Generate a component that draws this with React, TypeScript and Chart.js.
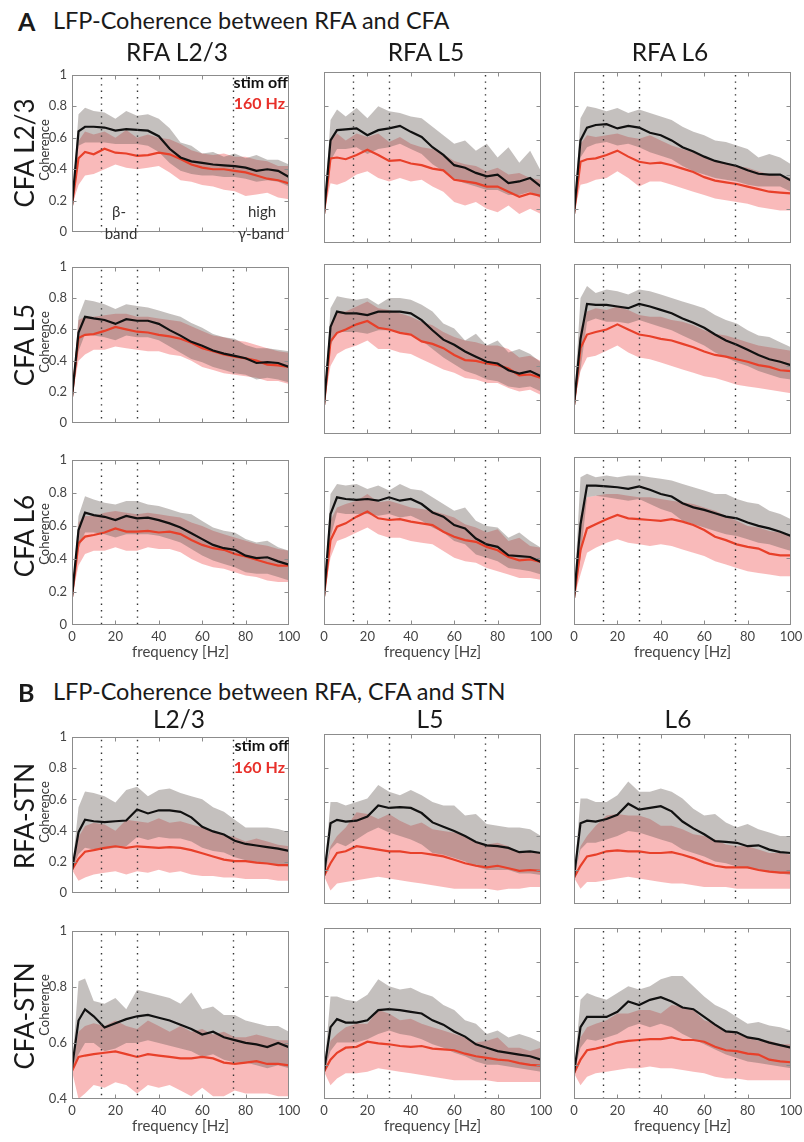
import React, { useEffect, useRef } from 'react';
import { Chart, registerables } from 'chart.js';

Chart.register(...registerables);

// ---------------- data ----------------
const FREQ = [0, 3, 6, 10, 15, 20, 25, 30, 35, 40, 45, 50, 55, 60, 65, 70, 75, 80, 85, 90, 95, 100];
const VLINES = [13.5, 30, 74];
const X_TICKS = [0, 20, 40, 60, 80, 100];

// A: CFA L2/3 x RFA L2/3
const A11_OFF = [0.17,0.64,0.67,0.67,0.665,0.645,0.655,0.65,0.645,0.61,0.53,0.475,0.45,0.44,0.43,0.425,0.42,0.41,0.39,0.40,0.39,0.35];
const A11_OFF_HI = [0.17,0.75,0.79,0.77,0.76,0.72,0.77,0.74,0.75,0.72,0.66,0.57,0.55,0.50,0.51,0.48,0.50,0.47,0.49,0.46,0.46,0.43];
const A11_OFF_LO = [0.17,0.55,0.57,0.57,0.57,0.56,0.56,0.56,0.55,0.51,0.44,0.39,0.37,0.36,0.36,0.35,0.35,0.34,0.32,0.33,0.32,0.29];
const A11_STIM = [0.17,0.47,0.51,0.495,0.53,0.505,0.50,0.485,0.49,0.505,0.495,0.465,0.43,0.41,0.40,0.40,0.39,0.38,0.36,0.34,0.33,0.31];
const A11_STIM_HI = [0.17,0.58,0.64,0.62,0.64,0.60,0.65,0.60,0.62,0.60,0.59,0.56,0.52,0.50,0.49,0.50,0.48,0.48,0.46,0.45,0.42,0.42];
const A11_STIM_LO = [0.17,0.30,0.36,0.37,0.40,0.43,0.41,0.40,0.41,0.42,0.38,0.33,0.32,0.30,0.29,0.27,0.26,0.23,0.24,0.25,0.22,0.21];

// A: CFA L2/3 x RFA L5
const A12_OFF = [0.17,0.60,0.66,0.665,0.67,0.63,0.66,0.67,0.685,0.65,0.62,0.56,0.515,0.455,0.44,0.41,0.39,0.40,0.35,0.36,0.38,0.33];
const A12_OFF_HI = [0.17,0.72,0.78,0.74,0.79,0.73,0.80,0.77,0.76,0.74,0.73,0.68,0.63,0.58,0.60,0.54,0.58,0.50,0.56,0.47,0.54,0.42];
const A12_OFF_LO = [0.17,0.48,0.55,0.55,0.56,0.52,0.55,0.56,0.58,0.55,0.52,0.46,0.42,0.37,0.35,0.33,0.31,0.31,0.28,0.28,0.30,0.26];
const A12_STIM = [0.17,0.495,0.50,0.49,0.515,0.545,0.515,0.48,0.485,0.465,0.455,0.435,0.425,0.37,0.36,0.35,0.33,0.33,0.30,0.27,0.29,0.275];
const A12_STIM_HI = [0.17,0.60,0.64,0.60,0.64,0.62,0.64,0.59,0.62,0.58,0.56,0.55,0.52,0.48,0.46,0.45,0.42,0.44,0.40,0.41,0.38,0.37];
const A12_STIM_LO = [0.17,0.35,0.34,0.36,0.40,0.42,0.38,0.36,0.38,0.36,0.37,0.33,0.30,0.24,0.22,0.24,0.20,0.18,0.22,0.17,0.20,0.17];

// A: CFA L2/3 x RFA L6
const A13_OFF = [0.17,0.60,0.675,0.69,0.695,0.67,0.685,0.675,0.645,0.63,0.60,0.56,0.535,0.505,0.48,0.465,0.45,0.425,0.405,0.40,0.40,0.365];
const A13_OFF_HI = [0.17,0.73,0.80,0.79,0.77,0.79,0.76,0.78,0.76,0.74,0.72,0.68,0.65,0.63,0.60,0.59,0.57,0.55,0.50,0.52,0.50,0.46];
const A13_OFF_LO = [0.17,0.50,0.56,0.58,0.59,0.57,0.58,0.56,0.53,0.51,0.49,0.45,0.42,0.40,0.38,0.37,0.36,0.34,0.33,0.33,0.33,0.30];
const A13_STIM = [0.17,0.475,0.49,0.495,0.515,0.54,0.505,0.475,0.465,0.47,0.455,0.435,0.415,0.385,0.365,0.355,0.345,0.33,0.315,0.30,0.295,0.29];
const A13_STIM_HI = [0.17,0.58,0.63,0.62,0.63,0.64,0.62,0.61,0.63,0.60,0.57,0.55,0.53,0.50,0.48,0.47,0.45,0.44,0.42,0.40,0.39,0.38];
const A13_STIM_LO = [0.17,0.34,0.35,0.37,0.38,0.42,0.38,0.33,0.36,0.36,0.34,0.32,0.30,0.28,0.26,0.25,0.24,0.23,0.21,0.20,0.19,0.19];

// A: CFA L5 x RFA L2/3
const A21_OFF = [0.17,0.58,0.68,0.67,0.66,0.635,0.665,0.655,0.655,0.635,0.595,0.56,0.52,0.495,0.465,0.445,0.43,0.415,0.385,0.39,0.385,0.36];
const A21_OFF_HI = [0.17,0.68,0.79,0.78,0.76,0.73,0.76,0.75,0.74,0.72,0.70,0.68,0.64,0.61,0.57,0.55,0.54,0.50,0.48,0.48,0.47,0.46];
const A21_OFF_LO = [0.17,0.46,0.57,0.56,0.55,0.53,0.56,0.55,0.55,0.53,0.49,0.45,0.41,0.39,0.36,0.34,0.32,0.31,0.28,0.29,0.28,0.26];
const A21_STIM = [0.17,0.545,0.565,0.57,0.59,0.615,0.60,0.585,0.58,0.565,0.555,0.54,0.515,0.48,0.46,0.44,0.425,0.415,0.40,0.375,0.37,0.36];
const A21_STIM_HI = [0.17,0.66,0.68,0.68,0.69,0.70,0.70,0.68,0.68,0.67,0.66,0.65,0.62,0.59,0.56,0.55,0.53,0.52,0.50,0.48,0.46,0.45];
const A21_STIM_LO = [0.17,0.40,0.44,0.47,0.47,0.49,0.48,0.47,0.46,0.46,0.44,0.43,0.40,0.36,0.34,0.32,0.31,0.30,0.29,0.27,0.27,0.25];

// A: CFA L5 x RFA L5
const A22_OFF = [0.17,0.63,0.72,0.71,0.71,0.70,0.72,0.72,0.72,0.71,0.67,0.61,0.555,0.525,0.485,0.455,0.425,0.415,0.375,0.355,0.37,0.34];
const A22_OFF_HI = [0.17,0.74,0.81,0.80,0.79,0.80,0.76,0.80,0.80,0.79,0.76,0.72,0.65,0.62,0.55,0.59,0.52,0.55,0.48,0.50,0.47,0.42];
const A22_OFF_LO = [0.17,0.52,0.60,0.60,0.60,0.59,0.61,0.61,0.60,0.59,0.55,0.50,0.45,0.41,0.37,0.35,0.32,0.31,0.28,0.27,0.28,0.25];
const A22_STIM = [0.17,0.545,0.595,0.615,0.645,0.665,0.625,0.615,0.595,0.585,0.545,0.53,0.505,0.465,0.435,0.43,0.415,0.405,0.385,0.345,0.35,0.33];
const A22_STIM_HI = [0.17,0.64,0.72,0.72,0.75,0.78,0.74,0.73,0.71,0.69,0.66,0.64,0.60,0.57,0.55,0.54,0.52,0.52,0.50,0.45,0.46,0.43];
const A22_STIM_LO = [0.17,0.40,0.47,0.50,0.52,0.55,0.50,0.50,0.48,0.47,0.44,0.41,0.38,0.36,0.33,0.32,0.30,0.30,0.27,0.25,0.26,0.23];

// A: CFA L5 x RFA L6
const A23_OFF = [0.17,0.56,0.765,0.76,0.76,0.75,0.74,0.765,0.75,0.73,0.71,0.68,0.655,0.625,0.585,0.55,0.525,0.495,0.465,0.44,0.425,0.405];
const A23_OFF_HI = [0.17,0.80,0.87,0.83,0.85,0.84,0.82,0.85,0.84,0.82,0.80,0.78,0.76,0.74,0.70,0.67,0.65,0.61,0.58,0.57,0.54,0.51];
const A23_OFF_LO = [0.17,0.38,0.66,0.68,0.66,0.66,0.65,0.67,0.65,0.63,0.61,0.58,0.55,0.52,0.48,0.45,0.42,0.40,0.37,0.35,0.33,0.32];
const A23_STIM = [0.17,0.505,0.585,0.60,0.615,0.645,0.615,0.585,0.575,0.56,0.55,0.53,0.51,0.485,0.465,0.455,0.44,0.425,0.405,0.395,0.375,0.37];
const A23_STIM_HI = [0.17,0.62,0.72,0.74,0.73,0.75,0.73,0.70,0.69,0.69,0.67,0.66,0.64,0.61,0.59,0.58,0.56,0.54,0.52,0.51,0.50,0.49];
const A23_STIM_LO = [0.17,0.37,0.45,0.46,0.49,0.52,0.48,0.45,0.44,0.42,0.40,0.38,0.36,0.34,0.33,0.31,0.29,0.28,0.27,0.26,0.25,0.24];

// A: CFA L6 x RFA L2/3
const A31_OFF = [0.17,0.575,0.68,0.665,0.655,0.635,0.66,0.645,0.65,0.635,0.615,0.59,0.555,0.52,0.485,0.465,0.455,0.42,0.405,0.41,0.385,0.365];
const A31_OFF_HI = [0.17,0.66,0.78,0.76,0.74,0.73,0.75,0.75,0.73,0.72,0.70,0.68,0.67,0.63,0.59,0.57,0.56,0.52,0.50,0.51,0.47,0.45];
const A31_OFF_LO = [0.17,0.46,0.56,0.56,0.55,0.53,0.55,0.55,0.55,0.54,0.52,0.50,0.46,0.42,0.39,0.37,0.35,0.32,0.31,0.31,0.29,0.27];
const A31_STIM = [0.17,0.495,0.535,0.545,0.56,0.585,0.565,0.565,0.57,0.56,0.565,0.55,0.515,0.485,0.465,0.455,0.43,0.415,0.395,0.375,0.36,0.36];
const A31_STIM_HI = [0.17,0.62,0.66,0.66,0.68,0.69,0.68,0.67,0.68,0.67,0.66,0.65,0.62,0.60,0.57,0.55,0.53,0.51,0.49,0.48,0.46,0.45];
const A31_STIM_LO = [0.17,0.36,0.43,0.45,0.45,0.47,0.45,0.45,0.47,0.46,0.46,0.44,0.40,0.37,0.35,0.34,0.32,0.30,0.29,0.27,0.26,0.26];

// A: CFA L6 x RFA L5
const A32_OFF = [0.17,0.66,0.76,0.75,0.745,0.75,0.74,0.76,0.74,0.75,0.72,0.67,0.645,0.595,0.575,0.515,0.48,0.465,0.415,0.41,0.405,0.375];
const A32_OFF_HI = [0.17,0.78,0.84,0.83,0.84,0.81,0.83,0.80,0.84,0.81,0.80,0.76,0.72,0.68,0.70,0.62,0.59,0.58,0.52,0.55,0.50,0.46];
const A32_OFF_LO = [0.17,0.52,0.67,0.66,0.66,0.66,0.65,0.66,0.64,0.65,0.62,0.58,0.55,0.50,0.48,0.42,0.40,0.38,0.34,0.33,0.32,0.30];
const A32_STIM = [0.17,0.505,0.585,0.605,0.645,0.675,0.635,0.625,0.63,0.615,0.605,0.595,0.555,0.525,0.505,0.495,0.465,0.445,0.405,0.385,0.39,0.375];
const A32_STIM_HI = [0.17,0.62,0.70,0.72,0.74,0.78,0.73,0.74,0.72,0.70,0.69,0.68,0.66,0.64,0.60,0.58,0.55,0.57,0.50,0.52,0.47,0.46];
const A32_STIM_LO = [0.17,0.40,0.50,0.52,0.55,0.58,0.54,0.52,0.52,0.50,0.49,0.48,0.44,0.40,0.38,0.37,0.34,0.32,0.30,0.28,0.28,0.27];

// A: CFA L6 x RFA L6
const A33_OFF = [0.16,0.60,0.83,0.83,0.825,0.82,0.81,0.825,0.805,0.78,0.765,0.725,0.70,0.685,0.665,0.645,0.635,0.61,0.59,0.575,0.555,0.53];
const A33_OFF_HI = [0.16,0.88,0.90,0.88,0.89,0.88,0.89,0.89,0.88,0.87,0.86,0.84,0.82,0.80,0.78,0.78,0.75,0.73,0.72,0.68,0.66,0.63];
const A33_OFF_LO = [0.16,0.40,0.76,0.77,0.76,0.75,0.74,0.75,0.72,0.69,0.67,0.62,0.60,0.58,0.56,0.54,0.53,0.51,0.49,0.48,0.46,0.44];
const A33_STIM = [0.16,0.445,0.575,0.60,0.63,0.655,0.635,0.63,0.625,0.62,0.63,0.615,0.595,0.565,0.525,0.505,0.48,0.465,0.455,0.425,0.415,0.415];
const A33_STIM_HI = [0.16,0.65,0.76,0.77,0.78,0.78,0.77,0.76,0.76,0.75,0.74,0.73,0.72,0.70,0.68,0.65,0.62,0.59,0.58,0.56,0.55,0.53];
const A33_STIM_LO = [0.16,0.30,0.43,0.46,0.49,0.51,0.49,0.48,0.47,0.48,0.47,0.45,0.43,0.41,0.38,0.36,0.34,0.32,0.31,0.30,0.29,0.29];

// B: RFA-STN, L2/3
const B11_OFF = [0.15,0.39,0.47,0.46,0.455,0.46,0.465,0.535,0.51,0.53,0.53,0.52,0.485,0.425,0.395,0.375,0.335,0.315,0.305,0.295,0.285,0.27];
const B11_OFF_HI = [0.15,0.55,0.65,0.64,0.62,0.58,0.66,0.68,0.62,0.66,0.67,0.64,0.62,0.60,0.55,0.52,0.47,0.42,0.42,0.42,0.41,0.39];
const B11_OFF_LO = [0.15,0.25,0.29,0.28,0.28,0.29,0.30,0.36,0.34,0.36,0.35,0.35,0.33,0.29,0.27,0.26,0.23,0.21,0.20,0.19,0.18,0.17];
const B11_STIM = [0.15,0.22,0.265,0.275,0.29,0.30,0.29,0.30,0.295,0.29,0.295,0.29,0.275,0.255,0.235,0.215,0.205,0.205,0.195,0.19,0.18,0.18];
const B11_STIM_HI = [0.15,0.36,0.43,0.45,0.44,0.40,0.47,0.46,0.45,0.48,0.45,0.46,0.44,0.42,0.40,0.37,0.36,0.33,0.35,0.33,0.31,0.30];
const B11_STIM_LO = [0.15,0.08,0.10,0.12,0.13,0.14,0.12,0.14,0.13,0.15,0.13,0.14,0.12,0.11,0.11,0.10,0.10,0.09,0.09,0.09,0.08,0.08];

// B: RFA-STN, L5
const B12_OFF = [0.165,0.475,0.495,0.485,0.49,0.515,0.58,0.565,0.57,0.565,0.535,0.48,0.455,0.43,0.40,0.365,0.345,0.34,0.33,0.305,0.31,0.30];
const B12_OFF_HI = [0.165,0.60,0.60,0.58,0.60,0.62,0.70,0.66,0.64,0.67,0.64,0.60,0.58,0.58,0.52,0.53,0.47,0.46,0.45,0.45,0.44,0.40];
const B12_OFF_LO = [0.165,0.32,0.36,0.34,0.38,0.42,0.45,0.42,0.40,0.38,0.35,0.30,0.29,0.27,0.25,0.22,0.20,0.20,0.20,0.18,0.18,0.17];
const B12_STIM = [0.165,0.24,0.30,0.31,0.34,0.33,0.32,0.31,0.31,0.30,0.30,0.29,0.28,0.26,0.24,0.225,0.215,0.225,0.21,0.195,0.20,0.195];
const B12_STIM_HI = [0.165,0.34,0.40,0.45,0.54,0.53,0.50,0.53,0.49,0.46,0.48,0.44,0.43,0.42,0.40,0.36,0.35,0.36,0.34,0.30,0.31,0.30];
const B12_STIM_LO = [0.165,0.08,0.12,0.13,0.14,0.15,0.16,0.15,0.14,0.13,0.12,0.11,0.10,0.09,0.09,0.09,0.09,0.08,0.09,0.09,0.10,0.10];

// B: RFA-STN, L6
const B13_OFF = [0.155,0.475,0.49,0.485,0.50,0.525,0.59,0.555,0.565,0.575,0.545,0.485,0.445,0.41,0.37,0.365,0.36,0.34,0.345,0.32,0.305,0.30];
const B13_OFF_HI = [0.155,0.62,0.62,0.60,0.60,0.64,0.72,0.66,0.66,0.68,0.66,0.62,0.56,0.52,0.53,0.48,0.45,0.47,0.44,0.42,0.40,0.40];
const B13_OFF_LO = [0.155,0.32,0.36,0.36,0.38,0.40,0.43,0.42,0.40,0.38,0.36,0.32,0.30,0.28,0.25,0.24,0.22,0.21,0.20,0.19,0.18,0.17];
const B13_STIM = [0.155,0.225,0.28,0.29,0.31,0.315,0.31,0.31,0.30,0.30,0.305,0.29,0.27,0.245,0.225,0.215,0.215,0.215,0.20,0.19,0.185,0.185];
const B13_STIM_HI = [0.155,0.34,0.40,0.46,0.52,0.53,0.52,0.52,0.50,0.46,0.46,0.44,0.41,0.40,0.38,0.35,0.34,0.34,0.32,0.30,0.30,0.29];
const B13_STIM_LO = [0.155,0.09,0.13,0.13,0.14,0.15,0.16,0.15,0.14,0.13,0.12,0.12,0.11,0.10,0.10,0.10,0.09,0.09,0.09,0.09,0.09,0.09];

// B: CFA-STN, L2/3
const B21_OFF = [0.51,0.68,0.72,0.695,0.655,0.67,0.685,0.695,0.70,0.69,0.68,0.665,0.65,0.63,0.64,0.62,0.61,0.60,0.595,0.585,0.60,0.585];
const B21_OFF_HI = [0.51,0.82,0.83,0.75,0.74,0.76,0.72,0.79,0.78,0.77,0.76,0.74,0.78,0.72,0.73,0.70,0.70,0.68,0.67,0.66,0.66,0.64];
const B21_OFF_LO = [0.51,0.56,0.60,0.60,0.57,0.58,0.60,0.60,0.61,0.60,0.59,0.58,0.57,0.55,0.56,0.54,0.53,0.53,0.52,0.51,0.52,0.51];
const B21_STIM = [0.50,0.55,0.555,0.56,0.565,0.57,0.56,0.55,0.56,0.555,0.55,0.545,0.545,0.55,0.545,0.53,0.525,0.53,0.535,0.525,0.525,0.52];
const B21_STIM_HI = [0.50,0.64,0.66,0.67,0.66,0.68,0.66,0.65,0.68,0.66,0.64,0.66,0.64,0.65,0.63,0.64,0.62,0.62,0.63,0.62,0.61,0.61];
const B21_STIM_LO = [0.50,0.40,0.42,0.45,0.44,0.46,0.45,0.42,0.45,0.44,0.45,0.43,0.41,0.44,0.41,0.41,0.43,0.42,0.42,0.42,0.41,0.41];

// B: CFA-STN, L5
const B22_OFF = [0.16,0.42,0.467,0.447,0.447,0.46,0.52,0.525,0.52,0.51,0.50,0.46,0.435,0.395,0.365,0.32,0.30,0.28,0.27,0.26,0.25,0.23];
const B22_OFF_HI = [0.16,0.60,0.60,0.58,0.57,0.61,0.70,0.66,0.64,0.65,0.62,0.60,0.55,0.52,0.46,0.44,0.38,0.40,0.36,0.38,0.36,0.33];
const B22_OFF_LO = [0.16,0.28,0.33,0.33,0.33,0.35,0.38,0.40,0.38,0.37,0.35,0.32,0.30,0.27,0.25,0.22,0.20,0.20,0.19,0.18,0.17,0.16];
const B22_STIM = [0.16,0.23,0.27,0.30,0.305,0.335,0.325,0.32,0.31,0.305,0.31,0.295,0.29,0.285,0.265,0.25,0.24,0.23,0.225,0.21,0.20,0.195];
const B22_STIM_HI = [0.16,0.34,0.38,0.42,0.44,0.44,0.52,0.50,0.46,0.47,0.44,0.42,0.40,0.38,0.36,0.33,0.34,0.36,0.30,0.30,0.28,0.30];
const B22_STIM_LO = [0.16,0.08,0.12,0.15,0.15,0.16,0.18,0.17,0.16,0.15,0.14,0.13,0.12,0.11,0.11,0.11,0.11,0.10,0.10,0.10,0.10,0.10];

// B: CFA-STN, L6
const B23_OFF = [0.15,0.42,0.48,0.48,0.48,0.51,0.57,0.55,0.58,0.595,0.57,0.535,0.525,0.48,0.435,0.395,0.39,0.36,0.35,0.33,0.315,0.30];
const B23_OFF_HI = [0.15,0.58,0.62,0.60,0.58,0.62,0.66,0.64,0.66,0.70,0.72,0.72,0.66,0.60,0.55,0.52,0.48,0.44,0.45,0.43,0.42,0.40];
const B23_OFF_LO = [0.15,0.30,0.35,0.34,0.36,0.38,0.42,0.44,0.42,0.44,0.42,0.38,0.35,0.32,0.29,0.26,0.24,0.22,0.21,0.20,0.19,0.18];
const B23_STIM = [0.15,0.23,0.285,0.295,0.31,0.33,0.34,0.345,0.35,0.35,0.36,0.345,0.345,0.335,0.305,0.285,0.28,0.265,0.26,0.23,0.22,0.215];
const B23_STIM_HI = [0.15,0.36,0.42,0.44,0.46,0.50,0.50,0.52,0.52,0.50,0.55,0.54,0.52,0.46,0.44,0.40,0.38,0.36,0.34,0.34,0.32,0.32];
const B23_STIM_LO = [0.15,0.08,0.13,0.15,0.16,0.17,0.18,0.18,0.19,0.18,0.18,0.17,0.16,0.15,0.13,0.12,0.12,0.11,0.11,0.11,0.11,0.11];

// ---------------- styles / layout ----------------
const FONT = 'Lato, "Open Sans", sans-serif';
const BLACK = '#111111';
const RED = '#e8402a';
const GRAY_FILL = 'rgba(100,90,85,0.38)';
const PINK_FILL = 'rgba(240,90,90,0.42)';
const PLOT_W = 217;
const YW = 40;
const PT = 10;
const PR = 16;
const XH_BOTTOM = 36;
const COLS = [72, 324, 574];
const ROWS = [
  { top: 72, h: 171, bottom: false },
  { top: 264, h: 170, bottom: false },
  { top: 457, h: 168, bottom: true },
  { top: 734, h: 170, bottom: false },
  { top: 928, h: 171, bottom: true },
];

const PANELS = [
  { r: 0, c: 0, yMin: 0, off: A11_OFF, offHi: A11_OFF_HI, offLo: A11_OFF_LO, stim: A11_STIM, stimHi: A11_STIM_HI, stimLo: A11_STIM_LO },
  { r: 0, c: 1, yMin: 0, off: A12_OFF, offHi: A12_OFF_HI, offLo: A12_OFF_LO, stim: A12_STIM, stimHi: A12_STIM_HI, stimLo: A12_STIM_LO },
  { r: 0, c: 2, yMin: 0, off: A13_OFF, offHi: A13_OFF_HI, offLo: A13_OFF_LO, stim: A13_STIM, stimHi: A13_STIM_HI, stimLo: A13_STIM_LO },
  { r: 1, c: 0, yMin: 0, off: A21_OFF, offHi: A21_OFF_HI, offLo: A21_OFF_LO, stim: A21_STIM, stimHi: A21_STIM_HI, stimLo: A21_STIM_LO },
  { r: 1, c: 1, yMin: 0, off: A22_OFF, offHi: A22_OFF_HI, offLo: A22_OFF_LO, stim: A22_STIM, stimHi: A22_STIM_HI, stimLo: A22_STIM_LO },
  { r: 1, c: 2, yMin: 0, off: A23_OFF, offHi: A23_OFF_HI, offLo: A23_OFF_LO, stim: A23_STIM, stimHi: A23_STIM_HI, stimLo: A23_STIM_LO },
  { r: 2, c: 0, yMin: 0, off: A31_OFF, offHi: A31_OFF_HI, offLo: A31_OFF_LO, stim: A31_STIM, stimHi: A31_STIM_HI, stimLo: A31_STIM_LO },
  { r: 2, c: 1, yMin: 0, off: A32_OFF, offHi: A32_OFF_HI, offLo: A32_OFF_LO, stim: A32_STIM, stimHi: A32_STIM_HI, stimLo: A32_STIM_LO },
  { r: 2, c: 2, yMin: 0, off: A33_OFF, offHi: A33_OFF_HI, offLo: A33_OFF_LO, stim: A33_STIM, stimHi: A33_STIM_HI, stimLo: A33_STIM_LO },
  { r: 3, c: 0, yMin: 0, off: B11_OFF, offHi: B11_OFF_HI, offLo: B11_OFF_LO, stim: B11_STIM, stimHi: B11_STIM_HI, stimLo: B11_STIM_LO },
  { r: 3, c: 1, yMin: 0, off: B12_OFF, offHi: B12_OFF_HI, offLo: B12_OFF_LO, stim: B12_STIM, stimHi: B12_STIM_HI, stimLo: B12_STIM_LO },
  { r: 3, c: 2, yMin: 0, off: B13_OFF, offHi: B13_OFF_HI, offLo: B13_OFF_LO, stim: B13_STIM, stimHi: B13_STIM_HI, stimLo: B13_STIM_LO },
  { r: 4, c: 0, yMin: 0.4, off: B21_OFF, offHi: B21_OFF_HI, offLo: B21_OFF_LO, stim: B21_STIM, stimHi: B21_STIM_HI, stimLo: B21_STIM_LO },
  { r: 4, c: 1, yMin: 0, off: B22_OFF, offHi: B22_OFF_HI, offLo: B22_OFF_LO, stim: B22_STIM, stimHi: B22_STIM_HI, stimLo: B22_STIM_LO },
  { r: 4, c: 2, yMin: 0, off: B23_OFF, offHi: B23_OFF_HI, offLo: B23_OFF_LO, stim: B23_STIM, stimHi: B23_STIM_HI, stimLo: B23_STIM_LO },
];

// MATLAB-like axes box: dotted band markers, box, inner tick marks
const matlabAxes = {
  id: 'matlabAxes',
  afterDatasetsDraw(chart: any, _args: any, opts: any) {
    const { ctx, chartArea: a, scales } = chart;
    const x = scales.x;
    const y = scales.y;
    ctx.save();
    ctx.strokeStyle = '#333';
    ctx.lineWidth = 1.4;
    ctx.setLineDash([1.4, 5]);
    for (const f of opts.vlines) {
      const px = Math.round(x.getPixelForValue(f)) + 0.5;
      ctx.beginPath();
      ctx.moveTo(px, a.top + 3);
      ctx.lineTo(px, a.bottom);
      ctx.stroke();
    }
    ctx.setLineDash([]);
    ctx.strokeStyle = '#8c8c8c';
    ctx.lineWidth = 1;
    const l = Math.round(a.left) + 0.5;
    const t = Math.round(a.top) + 0.5;
    const r = Math.round(a.right) - 0.5;
    const b = Math.round(a.bottom) - 0.5;
    ctx.strokeRect(l, t, r - l, b - t);
    const tl = 4;
    ctx.beginPath();
    for (const v of opts.xTicks) {
      const px = Math.round(x.getPixelForValue(v)) + 0.5;
      if (px <= l + 1 || px >= r - 1) continue;
      ctx.moveTo(px, b); ctx.lineTo(px, b - tl);
      ctx.moveTo(px, t); ctx.lineTo(px, t + tl);
    }
    for (const tk of y.ticks) {
      const py = Math.round(y.getPixelForValue(tk.value)) + 0.5;
      if (py <= t + 1 || py >= b - 1) continue;
      ctx.moveTo(l, py); ctx.lineTo(l + tl, py);
      ctx.moveTo(r, py); ctx.lineTo(r - tl, py);
    }
    ctx.stroke();
    ctx.restore();
  },
};

function Panel({ spec }: { spec: any }) {
  const ref = useRef<HTMLCanvasElement | null>(null);
  const row = ROWS[spec.r];
  const left = COLS[spec.c];
  const xh = row.bottom ? XH_BOTTOM : 2;
  const w = YW + PLOT_W + PR;
  const h = PT + row.h + xh;

  useEffect(() => {
    const pts = (arr: number[]) => FREQ.map((f, i) => ({ x: f, y: arr[i] }));
    const band = { pointRadius: 0, borderWidth: 1, borderColor: 'rgba(0,0,0,0)' };
    const tickFont = { family: FONT, size: 13 };
    const chart = new Chart(ref.current as HTMLCanvasElement, {
      type: 'line',
      data: {
        datasets: [
          { data: pts(spec.off), borderColor: BLACK, borderWidth: 2.2, pointRadius: 0, fill: false },
          { data: pts(spec.stim), borderColor: RED, borderWidth: 2.2, pointRadius: 0, fill: false },
          { data: pts(spec.offHi), ...band, backgroundColor: GRAY_FILL, fill: '+1' },
          { data: pts(spec.offLo), ...band, fill: false },
          { data: pts(spec.stimHi), ...band, backgroundColor: PINK_FILL, fill: '+1' },
          { data: pts(spec.stimLo), ...band, fill: false },
        ],
      } as any,
      options: {
        animation: false,
        responsive: false,
        devicePixelRatio: 1,
        events: [],
        elements: { line: { tension: 0 } },
        layout: { padding: { top: PT, right: PR, left: 0, bottom: 0 } },
        plugins: {
          legend: { display: false },
          tooltip: { enabled: false },
          matlabAxes: { vlines: VLINES, xTicks: X_TICKS },
        } as any,
        scales: {
          x: {
            type: 'linear',
            min: 0,
            max: 100,
            afterFit: (s: any) => { s.height = xh; },
            grid: { display: false, drawTicks: false },
            border: { display: false },
            ticks: {
              display: row.bottom,
              stepSize: 20,
              padding: 4,
              maxRotation: 0,
              autoSkip: false,
              color: '#444',
              font: tickFont,
            },
            title: {
              display: row.bottom,
              text: 'frequency [Hz]',
              padding: 0,
              color: '#444',
              font: { family: FONT, size: 15 },
            },
          },
          y: {
            type: 'linear',
            min: spec.yMin,
            max: 1,
            afterFit: (s: any) => { s.width = YW; },
            grid: { display: false, drawTicks: false },
            border: { display: false },
            ticks: {
              display: spec.c === 0,
              stepSize: 0.2,
              padding: 5,
              color: '#444',
              font: tickFont,
              callback: (v: any) => String(Math.round(Number(v) * 10) / 10),
            },
          },
        } as any,
      },
      plugins: [matlabAxes],
    } as any);
    return () => chart.destroy();
  }, []);

  return (
    <canvas
      ref={ref}
      width={w}
      height={h}
      style={{ position: 'absolute', left: left - YW, top: row.top - PT, width: w, height: h, display: 'block' }}
    />
  );
}

function Txt(props: any) {
  const { x, y, children, size, weight = 400, color = '#1a1a1a', rotate = false, align = 'center' } = props;
  const tx = align === 'center' ? '-50%' : align === 'right' ? '-100%' : '0';
  return (
    <div
      style={{
        position: 'absolute',
        left: x,
        top: y,
        transform: `translate(${tx},-50%)${rotate ? ' rotate(-90deg)' : ''}`,
        fontFamily: FONT,
        fontSize: size,
        fontWeight: weight,
        color,
        lineHeight: 1,
        whiteSpace: 'nowrap',
      }}
    >
      {children}
    </div>
  );
}

export default function App() {
  return (
    <div style={{ position: 'absolute', left: 0, top: 0, width: 804, height: 1142, background: '#fff', overflow: 'hidden' }}>
      {PANELS.map((p, i) => (
        <Panel key={i} spec={p} />
      ))}

      {/* Section A */}
      <Txt x={18} y={21} size={25} weight={700} align="left">A</Txt>
      <Txt x={53} y={21} size={23.5} align="left">LFP-Coherence between RFA and CFA</Txt>
      <Txt x={177} y={52} size={24.5}>RFA L2/3</Txt>
      <Txt x={426} y={52} size={24.5}>RFA L5</Txt>
      <Txt x={670} y={52} size={24.5}>RFA L6</Txt>

      <Txt x={24} y={153} size={26} rotate>CFA L2/3</Txt>
      <Txt x={44} y={150} size={13} color="#333" rotate>Coherence</Txt>
      <Txt x={24} y={345} size={26} rotate>CFA L5</Txt>
      <Txt x={44} y={342} size={13} color="#333" rotate>Coherence</Txt>
      <Txt x={24} y={536} size={26} rotate>CFA L6</Txt>
      <Txt x={44} y={534} size={13} color="#333" rotate>Coherence</Txt>

      <Txt x={288} y={82} size={16} weight={700} align="right" color="#111">stim off</Txt>
      <Txt x={285} y={103} size={16} weight={700} align="right" color="#e8302a">160 Hz</Txt>
      <Txt x={119} y={211} size={15} color="#333">β-</Txt>
      <Txt x={121} y={233} size={15} color="#333">band</Txt>
      <Txt x={262} y={211} size={15} color="#333">high</Txt>
      <Txt x={261} y={233} size={15} color="#333">γ-band</Txt>

      {/* Section B */}
      <Txt x={18} y={692} size={25} weight={700} align="left">B</Txt>
      <Txt x={53} y={692} size={23.5} align="left">LFP-Coherence between RFA, CFA and STN</Txt>
      <Txt x={179} y={719} size={24.5}>L2/3</Txt>
      <Txt x={430} y={719} size={24.5}>L5</Txt>
      <Txt x={678} y={719} size={24.5}>L6</Txt>

      <Txt x={24} y={816} size={26} rotate>RFA-STN</Txt>
      <Txt x={44} y={812} size={13} color="#333" rotate>Coherence</Txt>
      <Txt x={24} y={1016} size={26} rotate>CFA-STN</Txt>
      <Txt x={44} y={1005} size={13} color="#333" rotate>Coherence</Txt>

      <Txt x={289} y={745} size={16} weight={700} align="right" color="#111">stim off</Txt>
      <Txt x={285} y={767} size={16} weight={700} align="right" color="#e8302a">160 Hz</Txt>
    </div>
  );
}
